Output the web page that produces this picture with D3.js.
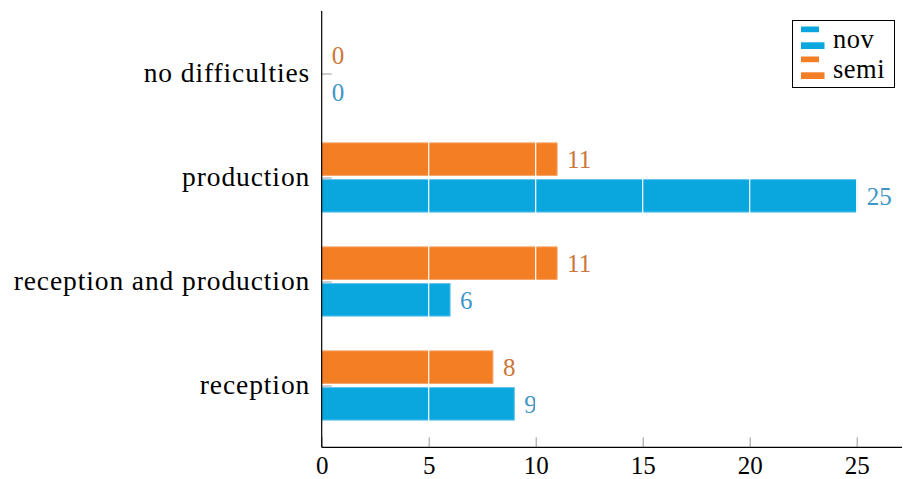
<!DOCTYPE html>
<html><head><meta charset="utf-8">
<script src="https://cdn.jsdelivr.net/npm/d3@7"></script>
<style>
body{margin:0;background:#fff;}
svg text{font-family:"Liberation Serif","DejaVu Serif",serif !important;}
</style></head>
<body><svg id="c" width="903" height="479"></svg>
<script>
const categories = ["reception", "reception and production", "production", "no difficulties"];
const seriesNames = ["nov", "semi"];
const novValues = [9, 6, 25, 0];
const semiValues = [8, 11, 11, 0];
const xTicks = [0, 5, 10, 15, 20, 25];

(function () {
const colors = {nov: "#0aa7de", semi: "#f47e23"};
const strokes = {nov: "#5fc2e9", semi: "#f6a363"};
const labelColors = {nov: "#3f95c6", semi: "#cd763a"};

const svg = d3.select("#c");
const mLeft = 321.7, mRight = 902, mTop = 11, mBottom = 447.3;

const x = d3.scaleLinear().domain([0, 25]).range([mLeft, 856.7]);
const y = d3.scalePoint().domain(categories).range([385.5, 73.5]);

const barH = 32.5, gap = 2.1;
const data = categories.map((c, i) => ({cat: c, nov: novValues[i], semi: semiValues[i]}));

const g = svg.append("g");
[["semi", -1], ["nov", 1]].forEach(([s, dir]) => {
  g.selectAll("rect." + s).data(data).enter().append("rect")
    .attr("class", s)
    .attr("x", x(0))
    .attr("y", d => dir < 0 ? y(d.cat) - gap - barH : y(d.cat) + gap)
    .attr("width", d => x(d[s]) - x(0))
    .attr("height", barH)
    .attr("fill", colors[s])
    .attr("stroke", d => d[s] > 0 ? strokes[s] : "none")
    .attr("stroke-width", 1);
  g.selectAll("text." + s).data(data).enter().append("text")
    .attr("class", s)
    .attr("x", d => x(d[s]) + 10)
    .attr("y", d => (dir < 0 ? y(d.cat) - gap - barH / 2 : y(d.cat) + gap + barH / 2))
    .attr("dy", "0.35em")
    .attr("font-size", 25)
    .attr("fill", labelColors[s])
    .text(d => d[s]);
});

svg.append("g").selectAll("line").data(xTicks.filter(t => t > 0)).enter().append("line")
  .attr("x1", d => x(d)).attr("x2", d => x(d))
  .attr("y1", mTop).attr("y2", mBottom - 11)
  .attr("stroke", "#fff").attr("stroke-width", 1.2);

const xAxis = d3.axisBottom(x).tickValues(xTicks).tickSizeInner(-10).tickSizeOuter(0).tickPadding(27);
const xg = svg.append("g").attr("transform", `translate(0,${mBottom})`).call(xAxis);
xg.attr("font-family", null);
xg.select(".domain").remove();
xg.selectAll(".tick line").attr("stroke", "#999");
xg.selectAll(".tick text").attr("font-size", 25).attr("fill", "#000").attr("dy", "0em");

const yAxis = d3.axisLeft(y).tickSizeInner(-10).tickSizeOuter(0).tickPadding(11.5);
const yg = svg.append("g").attr("transform", `translate(${mLeft},0)`).call(yAxis);
yg.attr("font-family", null);
yg.select(".domain").remove();
yg.selectAll(".tick line").attr("stroke", "#999");
yg.selectAll(".tick text").attr("font-size", 27.5).attr("fill", "#000")
  .attr("letter-spacing", "0.9px").attr("dy", "0.3em");

svg.append("line").attr("x1", mLeft).attr("x2", mLeft).attr("y1", mTop).attr("y2", mBottom).attr("stroke", "#000").attr("stroke-width", 1.2);
svg.append("line").attr("x1", mLeft).attr("x2", mRight).attr("y1", mBottom).attr("y2", mBottom).attr("stroke", "#000").attr("stroke-width", 1.2);

const lg = svg.append("g");
lg.append("rect").attr("x", 792.5).attr("y", 20.5).attr("width", 102).attr("height", 67).attr("fill", "#fff").attr("stroke", "#000").attr("stroke-width", 1);
seriesNames.forEach((s, i) => {
  const oy = 26.5 + i * 30;
  lg.append("rect").attr("x", 801).attr("y", oy).attr("width", 18).attr("height", 5.7).attr("fill", colors[s]);
  lg.append("rect").attr("x", 801).attr("y", oy + 15.8).attr("width", 23.5).attr("height", 6.7).attr("fill", colors[s]);
  lg.append("text").attr("x", 833).attr("y", oy + 21.5).attr("font-size", 26.5).attr("letter-spacing", "0.5px").attr("fill", "#000").text(s);
});
})();
</script></body></html>
